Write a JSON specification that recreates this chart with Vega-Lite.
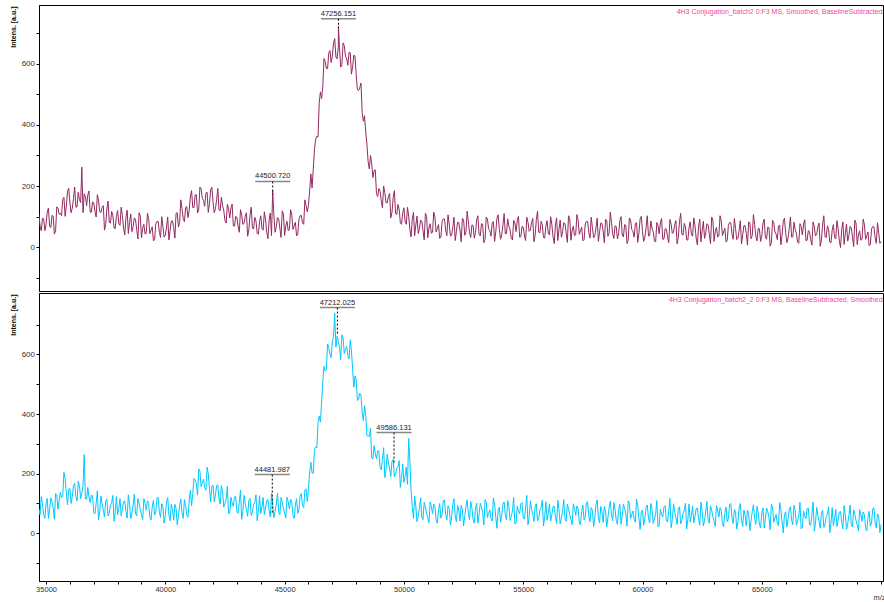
{
"$schema":"https://vega.github.io/schema/vega-lite/v6.json",
"background":"white",
"padding":{"left":8,"top":4,"right":0,"bottom":0},
"spacing":0,
"config":{"view":{"stroke":"black","strokeWidth":1},"font":"Liberation Sans","axis":{"grid":false,"labelOverlap":false}},
"datasets":{
"spec":[
{"m":34700,"t":107,"b":82},{"m":34800,"t":54,"b":123},{"m":34900,"t":93,"b":63},{"m":35000,"t":73,"b":100},{"m":35100,"t":128,"b":50},{"m":35200,"t":64,"b":119},{"m":35300,"t":102,"b":87},{"m":35400,"t":54,"b":133},{"m":35500,"t":129,"b":81},{"m":35600,"t":111,"b":137},
{"m":35700,"t":157,"b":124},{"m":35800,"t":101,"b":184},{"m":35900,"t":183,"b":95},{"m":36000,"t":145,"b":151},{"m":36100,"t":128,"b":125},{"m":36200,"t":197,"b":168},{"m":36300,"t":132,"b":108},{"m":36400,"t":156,"b":160},{"m":36500,"t":262,"b":136},{"m":36600,"t":175,"b":264},
{"m":36700,"t":136,"b":114},{"m":36800,"t":184,"b":122},{"m":36900,"t":115,"b":127},{"m":37000,"t":145,"b":69},{"m":37100,"t":99,"b":101},{"m":37200,"t":154,"b":45},{"m":37300,"t":113,"b":125},{"m":37400,"t":136,"b":79},{"m":37500,"t":74,"b":107},{"m":37600,"t":151,"b":58},
{"m":37700,"t":79,"b":94},{"m":37800,"t":105,"b":127},{"m":37900,"t":61,"b":72},{"m":38000,"t":120,"b":62},{"m":38100,"t":72,"b":116},{"m":38200,"t":104,"b":81},{"m":38300,"t":40,"b":109},{"m":38400,"t":121,"b":51},{"m":38500,"t":80,"b":97},{"m":38600,"t":51,"b":68},
{"m":38700,"t":96,"b":131},{"m":38800,"t":59,"b":58},{"m":38900,"t":113,"b":100},{"m":39000,"t":31,"b":63},{"m":39100,"t":75,"b":116},{"m":39200,"t":46,"b":77},{"m":39300,"t":93,"b":100},{"m":39400,"t":56,"b":44},{"m":39500,"t":21,"b":110},{"m":39600,"t":76,"b":72},
{"m":39700,"t":84,"b":121},{"m":39800,"t":32,"b":53},{"m":39900,"t":67,"b":89},{"m":40000,"t":40,"b":61},{"m":40100,"t":99,"b":120},{"m":40200,"t":55,"b":42},{"m":40300,"t":86,"b":80},{"m":40400,"t":30,"b":97},{"m":40500,"t":113,"b":28},{"m":40600,"t":81,"b":93},
{"m":40700,"t":127,"b":69},{"m":40800,"t":84,"b":113},{"m":40900,"t":133,"b":60},{"m":41000,"t":120,"b":112},{"m":41100,"t":185,"b":92},{"m":41200,"t":129,"b":184},{"m":41300,"t":172,"b":167},{"m":41400,"t":122,"b":216},{"m":41500,"t":191,"b":156},{"m":41600,"t":153,"b":182},
{"m":41700,"t":177,"b":144},{"m":41800,"t":114,"b":199},{"m":41900,"t":188,"b":105},{"m":42000,"t":147,"b":161},{"m":42100,"t":126,"b":128},{"m":42200,"t":192,"b":163},{"m":42300,"t":120,"b":98},{"m":42400,"t":136,"b":140},{"m":42500,"t":87,"b":101},{"m":42600,"t":140,"b":158},
{"m":42700,"t":96,"b":69},{"m":42800,"t":141,"b":102},{"m":42900,"t":69,"b":122},{"m":43000,"t":98,"b":71},{"m":43100,"t":49,"b":103},{"m":43200,"t":106,"b":47},{"m":43300,"t":78,"b":127},{"m":43400,"t":113,"b":81},{"m":43500,"t":56,"b":109},{"m":43600,"t":131,"b":60},
{"m":43700,"t":60,"b":96},{"m":43800,"t":86,"b":129},{"m":43900,"t":43,"b":74},{"m":44000,"t":103,"b":66},{"m":44100,"t":56,"b":120},{"m":44200,"t":90,"b":85},{"m":44300,"t":28,"b":113},{"m":44400,"t":112,"b":55},{"m":44500,"t":185,"b":101},{"m":44600,"t":49,"b":72},
{"m":44700,"t":97,"b":135},{"m":44800,"t":63,"b":62},{"m":44900,"t":119,"b":104},{"m":45000,"t":39,"b":68},{"m":45100,"t":85,"b":121},{"m":45200,"t":57,"b":82},{"m":45300,"t":106,"b":105},{"m":45400,"t":70,"b":50},{"m":45500,"t":37,"b":116},{"m":45600,"t":92,"b":78},
{"m":45700,"t":104,"b":133},{"m":45800,"t":75,"b":86},{"m":45900,"t":135,"b":149},{"m":46000,"t":137,"b":148},{"m":46100,"t":240,"b":239},{"m":46200,"t":254,"b":202},{"m":46300,"t":353,"b":290},{"m":46400,"t":360,"b":372},{"m":46500,"t":508,"b":373},{"m":46600,"t":526,"b":508},
{"m":46700,"t":607,"b":544},{"m":46800,"t":584,"b":635},{"m":46900,"t":643,"b":600},{"m":47000,"t":625,"b":642},{"m":47100,"t":682,"b":738},{"m":47200,"t":616,"b":661},{"m":47256,"t":722,"b":640},{"m":47300,"t":652,"b":625},{"m":47400,"t":597,"b":666},{"m":47500,"t":659,"b":603},
{"m":47600,"t":616,"b":627},{"m":47700,"t":637,"b":584},{"m":47800,"t":566,"b":614},{"m":47900,"t":628,"b":490},{"m":48000,"t":565,"b":516},{"m":48100,"t":513,"b":450},{"m":48200,"t":537,"b":463},{"m":48300,"t":412,"b":378},{"m":48400,"t":376,"b":395},{"m":48500,"t":280,"b":326},
{"m":48600,"t":300,"b":353},{"m":48700,"t":228,"b":249},{"m":48800,"t":253,"b":267},{"m":48900,"t":166,"b":277},{"m":49000,"t":183,"b":219},{"m":49100,"t":129,"b":248},{"m":49200,"t":179,"b":187},{"m":49300,"t":145,"b":265},{"m":49400,"t":176,"b":216},{"m":49500,"t":114,"b":241},
{"m":49600,"t":185,"b":190},{"m":49700,"t":106,"b":218},{"m":49800,"t":125,"b":244},{"m":49900,"t":75,"b":184},{"m":50000,"t":129,"b":171},{"m":50100,"t":75,"b":222},{"m":50200,"t":102,"b":318},{"m":50300,"t":34,"b":143},{"m":50400,"t":114,"b":50},{"m":50500,"t":73,"b":89},
{"m":50600,"t":45,"b":57},{"m":50700,"t":89,"b":119},{"m":50800,"t":55,"b":46},{"m":50900,"t":111,"b":88},{"m":51000,"t":31,"b":52},{"m":51100,"t":77,"b":105},{"m":51200,"t":49,"b":66},{"m":51300,"t":98,"b":89},{"m":51400,"t":62,"b":34},{"m":51500,"t":29,"b":100},
{"m":51600,"t":84,"b":62},{"m":51700,"t":92,"b":112},{"m":51800,"t":38,"b":45},{"m":51900,"t":73,"b":83},{"m":52000,"t":40,"b":55},{"m":52100,"t":98,"b":116},{"m":52200,"t":52,"b":39},{"m":52300,"t":81,"b":77},{"m":52400,"t":18,"b":94},{"m":52500,"t":91,"b":25},
{"m":52600,"t":49,"b":90},{"m":52700,"t":85,"b":66},{"m":52800,"t":32,"b":107},{"m":52900,"t":71,"b":47},{"m":53000,"t":48,"b":84},{"m":53100,"t":103,"b":34},{"m":53200,"t":37,"b":101},{"m":53300,"t":75,"b":69},{"m":53400,"t":25,"b":113},{"m":53500,"t":92,"b":53},
{"m":53600,"t":54,"b":79},{"m":53700,"t":80,"b":41},{"m":53800,"t":19,"b":96},{"m":53900,"t":96,"b":17},{"m":54000,"t":58,"b":88},{"m":54100,"t":41,"b":62},{"m":54200,"t":110,"b":105},{"m":54300,"t":45,"b":45},{"m":54400,"t":69,"b":92},{"m":54500,"t":28,"b":58},
{"m":54600,"t":88,"b":120},{"m":54700,"t":51,"b":36},{"m":54800,"t":101,"b":74},{"m":54900,"t":34,"b":99},{"m":55000,"t":66,"b":51},{"m":55100,"t":22,"b":85},{"m":55200,"t":82,"b":29},{"m":55300,"t":56,"b":109},{"m":55400,"t":94,"b":63},{"m":55500,"t":39,"b":91},
{"m":55600,"t":118,"b":42},{"m":55700,"t":47,"b":78},{"m":55800,"t":73,"b":111},{"m":55900,"t":30,"b":56},{"m":56000,"t":87,"b":44},{"m":56100,"t":40,"b":98},{"m":56200,"t":74,"b":63},{"m":56300,"t":12,"b":91},{"m":56400,"t":96,"b":33},{"m":56500,"t":58,"b":79},
{"m":56600,"t":33,"b":50},{"m":56700,"t":81,"b":113},{"m":56800,"t":47,"b":40},{"m":56900,"t":103,"b":82},{"m":57000,"t":23,"b":46},{"m":57100,"t":69,"b":99},{"m":57200,"t":41,"b":60},{"m":57300,"t":90,"b":83},{"m":57400,"t":54,"b":28},{"m":57500,"t":21,"b":94},
{"m":57600,"t":76,"b":56},{"m":57700,"t":84,"b":106},{"m":57800,"t":30,"b":39},{"m":57900,"t":65,"b":77},{"m":58000,"t":37,"b":51},{"m":58100,"t":95,"b":112},{"m":58200,"t":49,"b":35},{"m":58300,"t":78,"b":73},{"m":58400,"t":15,"b":90},{"m":58500,"t":88,"b":21},
{"m":58600,"t":46,"b":86},{"m":58700,"t":82,"b":62},{"m":58800,"t":29,"b":103},{"m":58900,"t":68,"b":43},{"m":59000,"t":45,"b":80},{"m":59100,"t":100,"b":30},{"m":59200,"t":34,"b":97},{"m":59300,"t":72,"b":65},{"m":59400,"t":22,"b":109},{"m":59500,"t":89,"b":49},
{"m":59600,"t":51,"b":75},{"m":59700,"t":77,"b":37},{"m":59800,"t":16,"b":92},{"m":59900,"t":93,"b":13},{"m":60000,"t":51,"b":78},{"m":60100,"t":34,"b":52},{"m":60200,"t":103,"b":95},{"m":60300,"t":38,"b":35},{"m":60400,"t":62,"b":82},{"m":60500,"t":21,"b":48},
{"m":60600,"t":81,"b":110},{"m":60700,"t":44,"b":26},{"m":60800,"t":94,"b":64},{"m":60900,"t":27,"b":89},{"m":61000,"t":59,"b":41},{"m":61100,"t":15,"b":75},{"m":61200,"t":75,"b":19},{"m":61300,"t":49,"b":99},{"m":61400,"t":87,"b":53},{"m":61500,"t":32,"b":81},
{"m":61600,"t":111,"b":32},{"m":61700,"t":40,"b":68},{"m":61800,"t":66,"b":101},{"m":61900,"t":23,"b":46},{"m":62000,"t":83,"b":38},{"m":62100,"t":36,"b":92},{"m":62200,"t":70,"b":57},{"m":62300,"t":8,"b":85},{"m":62400,"t":92,"b":27},{"m":62500,"t":54,"b":73},
{"m":62600,"t":29,"b":44},{"m":62700,"t":77,"b":107},{"m":62800,"t":43,"b":34},{"m":62900,"t":99,"b":76},{"m":63000,"t":19,"b":40},{"m":63100,"t":65,"b":93},{"m":63200,"t":37,"b":54},{"m":63300,"t":86,"b":77},{"m":63400,"t":50,"b":22},{"m":63500,"t":17,"b":88},
{"m":63600,"t":72,"b":50},{"m":63700,"t":80,"b":100},{"m":63800,"t":26,"b":33},{"m":63900,"t":61,"b":71},{"m":64000,"t":29,"b":39},{"m":64100,"t":87,"b":100},{"m":64200,"t":41,"b":23},{"m":64300,"t":70,"b":61},{"m":64400,"t":7,"b":78},{"m":64500,"t":80,"b":9},
{"m":64600,"t":38,"b":74},{"m":64700,"t":74,"b":50},{"m":64800,"t":21,"b":91},{"m":64900,"t":60,"b":31},{"m":65000,"t":37,"b":68},{"m":65100,"t":92,"b":18},{"m":65200,"t":26,"b":85},{"m":65300,"t":64,"b":53},{"m":65400,"t":14,"b":97},{"m":65500,"t":81,"b":37},
{"m":65600,"t":43,"b":63},{"m":65700,"t":69,"b":25},{"m":65800,"t":8,"b":80},{"m":65900,"t":85,"b":1},{"m":66000,"t":47,"b":72},{"m":66100,"t":30,"b":46},{"m":66200,"t":99,"b":89},{"m":66300,"t":34,"b":29},{"m":66400,"t":58,"b":76},{"m":66500,"t":17,"b":42},
{"m":66600,"t":77,"b":104},{"m":66700,"t":40,"b":20},{"m":66800,"t":90,"b":58},{"m":66900,"t":23,"b":83},{"m":67000,"t":51,"b":29},{"m":67100,"t":7,"b":63},{"m":67200,"t":67,"b":7},{"m":67300,"t":41,"b":87},{"m":67400,"t":79,"b":41},{"m":67500,"t":24,"b":69},
{"m":67600,"t":103,"b":20},{"m":67700,"t":32,"b":56},{"m":67800,"t":58,"b":89},{"m":67900,"t":15,"b":34},{"m":68000,"t":74,"b":26},{"m":68100,"t":27,"b":80},{"m":68200,"t":61,"b":45},{"m":68300,"t":-1,"b":73},{"m":68400,"t":83,"b":15},{"m":68500,"t":45,"b":61},
{"m":68600,"t":20,"b":32},{"m":68700,"t":68,"b":95},{"m":68800,"t":33,"b":21},{"m":68900,"t":89,"b":63},{"m":69000,"t":9,"b":27},{"m":69100,"t":54,"b":79},{"m":69200,"t":26,"b":40},{"m":69300,"t":75,"b":63},{"m":69400,"t":38,"b":8},{"m":69500,"t":5,"b":74},
{"m":69600,"t":60,"b":35},{"m":69700,"t":67,"b":85},{"m":69800,"t":13,"b":18},{"m":69900,"t":47,"b":56},{"m":70000,"t":19,"b":30},
{"m":34750,"t":69,"b":62},{"m":34850,"t":95,"b":100},{"m":34950,"t":54,"b":50},{"m":35050,"t":115,"b":117},{"m":35150,"t":69,"b":80},{"m":35250,"t":104,"b":107},{"m":35350,"t":43,"b":47},{"m":35450,"t":132,"b":129},{"m":35550,"t":108,"b":110},{"m":35650,"t":103,"b":120},
{"m":35750,"t":163,"b":204},{"m":35850,"t":134,"b":137},{"m":35950,"t":193,"b":148},{"m":36050,"t":113,"b":100},{"m":36150,"t":159,"b":160},{"m":36250,"t":131,"b":123},{"m":36350,"t":180,"b":175},{"m":36450,"t":146,"b":116},{"m":36550,"t":113,"b":160},{"m":36650,"t":165,"b":116},
{"m":36750,"t":171,"b":154},{"m":36850,"t":115,"b":103},{"m":36950,"t":148,"b":126},{"m":37050,"t":118,"b":65},{"m":37150,"t":172,"b":143},{"m":37250,"t":116,"b":72},{"m":37350,"t":130,"b":98},{"m":37450,"t":56,"b":55},{"m":37550,"t":125,"b":115},{"m":37650,"t":81,"b":68},
{"m":37750,"t":117,"b":102},{"m":37850,"t":63,"b":40},{"m":37950,"t":101,"b":123},{"m":38050,"t":77,"b":84},{"m":38150,"t":131,"b":59},{"m":38250,"t":63,"b":107},{"m":38350,"t":98,"b":73},{"m":38450,"t":45,"b":129},{"m":38550,"t":109,"b":49},{"m":38650,"t":67,"b":95},
{"m":38750,"t":90,"b":67},{"m":38850,"t":27,"b":116},{"m":38950,"t":102,"b":79},{"m":39050,"t":62,"b":46},{"m":39150,"t":43,"b":101},{"m":39250,"t":111,"b":109},{"m":39350,"t":44,"b":54},{"m":39450,"t":67,"b":89},{"m":39550,"t":25,"b":61},{"m":39650,"t":85,"b":118},
{"m":39750,"t":49,"b":71},{"m":39850,"t":100,"b":99},{"m":39950,"t":33,"b":34},{"m":40050,"t":66,"b":105},{"m":40150,"t":24,"b":61},{"m":40250,"t":86,"b":97},{"m":40350,"t":64,"b":44},{"m":40450,"t":111,"b":83},{"m":40550,"t":66,"b":60},{"m":40650,"t":155,"b":115},
{"m":40750,"t":94,"b":50},{"m":40850,"t":130,"b":93},{"m":40950,"t":97,"b":54},{"m":41050,"t":167,"b":144},{"m":41150,"t":130,"b":133},{"m":41250,"t":171,"b":179},{"m":41350,"t":112,"b":128},{"m":41450,"t":197,"b":208},{"m":41550,"t":160,"b":170},{"m":41650,"t":134,"b":153},
{"m":41750,"t":180,"b":222},{"m":41850,"t":143,"b":149},{"m":41950,"t":196,"b":158},{"m":42050,"t":113,"b":106},{"m":42150,"t":155,"b":159},{"m":42250,"t":122,"b":115},{"m":42350,"t":164,"b":160},{"m":42450,"t":120,"b":88},{"m":42550,"t":79,"b":115},{"m":42650,"t":127,"b":66},
{"m":42750,"t":129,"b":121},{"m":42850,"t":70,"b":90},{"m":42950,"t":101,"b":124},{"m":43050,"t":69,"b":67},{"m":43150,"t":123,"b":145},{"m":43250,"t":75,"b":74},{"m":43350,"t":101,"b":100},{"m":43450,"t":36,"b":57},{"m":43550,"t":106,"b":117},{"m":43650,"t":62,"b":70},
{"m":43750,"t":98,"b":104},{"m":43850,"t":45,"b":42},{"m":43950,"t":84,"b":126},{"m":44050,"t":61,"b":88},{"m":44150,"t":116,"b":63},{"m":44250,"t":50,"b":111},{"m":44350,"t":88,"b":77},{"m":44450,"t":38,"b":133},{"m":44550,"t":105,"b":53},{"m":44650,"t":67,"b":99},
{"m":44750,"t":93,"b":71},{"m":44850,"t":32,"b":120},{"m":44950,"t":109,"b":84},{"m":45050,"t":71,"b":51},{"m":45150,"t":54,"b":106},{"m":45250,"t":123,"b":114},{"m":45350,"t":58,"b":60},{"m":45450,"t":82,"b":95},{"m":45550,"t":41,"b":67},{"m":45650,"t":103,"b":127},
{"m":45750,"t":80,"b":94},{"m":45850,"t":155,"b":145},{"m":45950,"t":116,"b":107},{"m":46050,"t":185,"b":208},{"m":46150,"t":194,"b":201},{"m":46250,"t":319,"b":282},{"m":46350,"t":363,"b":286},{"m":46450,"t":473,"b":393},{"m":46550,"t":486,"b":440},{"m":46650,"t":617,"b":560},
{"m":46750,"t":584,"b":549},{"m":46850,"t":635,"b":624},{"m":46950,"t":604,"b":589},{"m":47050,"t":668,"b":661},{"m":47150,"t":622,"b":624},{"m":47250,"t":655,"b":647},{"m":47350,"t":589,"b":582},{"m":47450,"t":668,"b":656},{"m":47550,"t":625,"b":616},{"m":47650,"t":595,"b":595},
{"m":47750,"t":636,"b":649},{"m":47850,"t":589,"b":549},{"m":47950,"t":625,"b":528},{"m":48050,"t":515,"b":445},{"m":48150,"t":521,"b":470},{"m":48250,"t":441,"b":405},{"m":48350,"t":430,"b":428},{"m":48450,"t":336,"b":328},{"m":48550,"t":256,"b":325},{"m":48650,"t":273,"b":254},
{"m":48750,"t":251,"b":294},{"m":48850,"t":175,"b":250},{"m":48950,"t":192,"b":276},{"m":49050,"t":152,"b":213},{"m":49150,"t":200,"b":287},{"m":49250,"t":145,"b":213},{"m":49350,"t":166,"b":236},{"m":49450,"t":96,"b":190},{"m":49550,"t":162,"b":248},{"m":49650,"t":112,"b":196},
{"m":49750,"t":140,"b":222},{"m":49850,"t":80,"b":154},{"m":49950,"t":113,"b":233},{"m":50050,"t":83,"b":191},{"m":50150,"t":131,"b":164},{"m":50250,"t":59,"b":240},{"m":50350,"t":92,"b":89},{"m":50450,"t":38,"b":124},{"m":50550,"t":102,"b":39},{"m":50650,"t":61,"b":83},
{"m":50750,"t":85,"b":55},{"m":50850,"t":24,"b":104},{"m":50950,"t":101,"b":68},{"m":51050,"t":63,"b":35},{"m":51150,"t":46,"b":90},{"m":51250,"t":115,"b":98},{"m":51350,"t":50,"b":44},{"m":51450,"t":74,"b":79},{"m":51550,"t":33,"b":51},{"m":51650,"t":93,"b":109},
{"m":51750,"t":56,"b":63},{"m":51850,"t":106,"b":92},{"m":51950,"t":36,"b":28},{"m":52050,"t":66,"b":100},{"m":52150,"t":22,"b":58},{"m":52250,"t":82,"b":94},{"m":52350,"t":56,"b":41},{"m":52450,"t":94,"b":80},{"m":52550,"t":39,"b":57},{"m":52650,"t":118,"b":112},
{"m":52750,"t":47,"b":46},{"m":52850,"t":73,"b":84},{"m":52950,"t":30,"b":34},{"m":53050,"t":90,"b":101},{"m":53150,"t":43,"b":63},{"m":53250,"t":77,"b":89},{"m":53350,"t":15,"b":28},{"m":53450,"t":99,"b":105},{"m":53550,"t":61,"b":67},{"m":53650,"t":36,"b":50},
{"m":53750,"t":84,"b":119},{"m":53850,"t":50,"b":54},{"m":53950,"t":106,"b":78},{"m":54050,"t":26,"b":37},{"m":54150,"t":72,"b":97},{"m":54250,"t":44,"b":60},{"m":54350,"t":93,"b":110},{"m":54450,"t":57,"b":43},{"m":54550,"t":24,"b":75},{"m":54650,"t":79,"b":31},
{"m":54750,"t":87,"b":91},{"m":54850,"t":33,"b":65},{"m":54950,"t":68,"b":103},{"m":55050,"t":40,"b":48},{"m":55150,"t":98,"b":127},{"m":55250,"t":52,"b":56},{"m":55350,"t":81,"b":82},{"m":55450,"t":18,"b":39},{"m":55550,"t":91,"b":99},{"m":55650,"t":49,"b":52},
{"m":55750,"t":85,"b":86},{"m":55850,"t":32,"b":24},{"m":55950,"t":69,"b":106},{"m":56050,"t":45,"b":66},{"m":56150,"t":100,"b":41},{"m":56250,"t":34,"b":89},{"m":56350,"t":72,"b":55},{"m":56450,"t":22,"b":111},{"m":56550,"t":89,"b":31},{"m":56650,"t":51,"b":77},
{"m":56750,"t":77,"b":49},{"m":56850,"t":16,"b":98},{"m":56950,"t":93,"b":62},{"m":57050,"t":55,"b":29},{"m":57150,"t":38,"b":84},{"m":57250,"t":107,"b":92},{"m":57350,"t":42,"b":38},{"m":57450,"t":66,"b":73},{"m":57550,"t":25,"b":45},{"m":57650,"t":85,"b":103},
{"m":57750,"t":48,"b":57},{"m":57850,"t":98,"b":86},{"m":57950,"t":31,"b":23},{"m":58050,"t":63,"b":96},{"m":58150,"t":19,"b":54},{"m":58250,"t":79,"b":90},{"m":58350,"t":53,"b":37},{"m":58450,"t":91,"b":76},{"m":58550,"t":36,"b":53},{"m":58650,"t":115,"b":108},
{"m":58750,"t":44,"b":42},{"m":58850,"t":70,"b":80},{"m":58950,"t":27,"b":30},{"m":59050,"t":87,"b":97},{"m":59150,"t":40,"b":59},{"m":59250,"t":74,"b":85},{"m":59350,"t":12,"b":24},{"m":59450,"t":96,"b":101},{"m":59550,"t":58,"b":63},{"m":59650,"t":33,"b":46},
{"m":59750,"t":81,"b":115},{"m":59850,"t":47,"b":50},{"m":59950,"t":101,"b":71},{"m":60050,"t":19,"b":27},{"m":60150,"t":65,"b":87},{"m":60250,"t":37,"b":50},{"m":60350,"t":86,"b":100},{"m":60450,"t":50,"b":33},{"m":60550,"t":17,"b":65},{"m":60650,"t":72,"b":21},
{"m":60750,"t":80,"b":81},{"m":60850,"t":26,"b":55},{"m":60950,"t":61,"b":93},{"m":61050,"t":33,"b":38},{"m":61150,"t":91,"b":117},{"m":61250,"t":45,"b":46},{"m":61350,"t":74,"b":72},{"m":61450,"t":11,"b":29},{"m":61550,"t":84,"b":89},{"m":61650,"t":42,"b":42},
{"m":61750,"t":78,"b":76},{"m":61850,"t":25,"b":14},{"m":61950,"t":64,"b":98},{"m":62050,"t":41,"b":60},{"m":62150,"t":96,"b":35},{"m":62250,"t":30,"b":83},{"m":62350,"t":68,"b":49},{"m":62450,"t":18,"b":105},{"m":62550,"t":85,"b":25},{"m":62650,"t":47,"b":71},
{"m":62750,"t":73,"b":43},{"m":62850,"t":12,"b":92},{"m":62950,"t":89,"b":56},{"m":63050,"t":51,"b":23},{"m":63150,"t":34,"b":78},{"m":63250,"t":103,"b":86},{"m":63350,"t":38,"b":32},{"m":63450,"t":62,"b":67},{"m":63550,"t":21,"b":39},{"m":63650,"t":81,"b":97},
{"m":63750,"t":44,"b":51},{"m":63850,"t":94,"b":80},{"m":63950,"t":25,"b":14},{"m":64050,"t":55,"b":84},{"m":64150,"t":11,"b":42},{"m":64250,"t":71,"b":78},{"m":64350,"t":45,"b":25},{"m":64450,"t":83,"b":64},{"m":64550,"t":28,"b":41},{"m":64650,"t":107,"b":96},
{"m":64750,"t":36,"b":30},{"m":64850,"t":62,"b":68},{"m":64950,"t":19,"b":18},{"m":65050,"t":79,"b":85},{"m":65150,"t":32,"b":47},{"m":65250,"t":66,"b":73},{"m":65350,"t":4,"b":12},{"m":65450,"t":88,"b":89},{"m":65550,"t":50,"b":51},{"m":65650,"t":25,"b":34},
{"m":65750,"t":73,"b":103},{"m":65850,"t":39,"b":38},{"m":65950,"t":95,"b":62},{"m":66050,"t":15,"b":21},{"m":66150,"t":61,"b":81},{"m":66250,"t":33,"b":44},{"m":66350,"t":82,"b":94},{"m":66450,"t":46,"b":27},{"m":66550,"t":13,"b":59},{"m":66650,"t":68,"b":15},
{"m":66750,"t":76,"b":75},{"m":66850,"t":22,"b":49},{"m":66950,"t":55,"b":84},{"m":67050,"t":25,"b":26},{"m":67150,"t":83,"b":105},{"m":67250,"t":37,"b":34},{"m":67350,"t":66,"b":60},{"m":67450,"t":3,"b":17},{"m":67550,"t":76,"b":77},{"m":67650,"t":34,"b":30},
{"m":67750,"t":70,"b":64},{"m":67850,"t":17,"b":2},{"m":67950,"t":55,"b":86},{"m":68050,"t":32,"b":48},{"m":68150,"t":87,"b":23},{"m":68250,"t":21,"b":71},{"m":68350,"t":59,"b":37},{"m":68450,"t":9,"b":93},{"m":68550,"t":76,"b":13},{"m":68650,"t":38,"b":59},
{"m":68750,"t":63,"b":30},{"m":68850,"t":2,"b":79},{"m":68950,"t":79,"b":43},{"m":69050,"t":40,"b":9},{"m":69150,"t":23,"b":64},{"m":69250,"t":92,"b":72},{"m":69350,"t":26,"b":18},{"m":69450,"t":50,"b":53},{"m":69550,"t":9,"b":24},{"m":69650,"t":68,"b":82},
{"m":69750,"t":31,"b":36},{"m":69850,"t":80,"b":65},{"m":69950,"t":13,"b":2}
],
"peaks":[
{"panel":"top","m":47256.151,"label":"47256.151","level":747,"tip":716},
{"panel":"top","m":44500.72,"label":"44500.720","level":215,"tip":173},
{"panel":"bottom","m":47212.025,"label":"47212.025","level":757,"tip":669},
{"panel":"bottom","m":44481.987,"label":"44481.987","level":197,"tip":68},
{"panel":"bottom","m":49586.131,"label":"49586.131","level":338,"tip":233}
]
},
"vconcat":[
{
"width":844,"height":286,
"layer":[
{"data":{"name":"spec"},"mark":{"type":"line","color":"#932a60","strokeWidth":1,"clip":true},
"encoding":{
"x":{"field":"m","type":"quantitative","scale":{"domain":[34705,70080],"nice":false,"zero":false},"axis":null},
"y":{"field":"t","type":"quantitative","scale":{"domain":[-143,792],"nice":false,"zero":false},
"axis":{"title":"Intens. [a.u.]","values":[-100,0,100,200,300,400,500,600,700],"tickCount":100,"labelOpacity":{"condition":{"test":"datum.value % 200 == 0","value":1},"value":0},"labelOverlap":false,"labelBound":false,"labelFlush":false,"format":"d","tickSize":3,"tickColor":"black","domainColor":"black","labelFontSize":8,"labelColor":"#333","labelPadding":1.5,"titleFontSize":7,"titleFontWeight":"bold","titleColor":"black","titleAngle":270,"titleAlign":"right","titleBaseline":"middle","titleX":-26,"titleY":1}}}},
{"data":{"name":"peaks"},"transform":[{"filter":"datum.panel == 'top'"}],"mark":{"type":"tick","orient":"horizontal","size":35,"thickness":1.5,"color":"#555"},
"encoding":{"x":{"field":"m","type":"quantitative"},"y":{"field":"level","type":"quantitative"}}},
{"data":{"name":"peaks"},"transform":[{"filter":"datum.panel == 'top'"}],"mark":{"type":"rule","strokeDash":[2,2],"color":"black","strokeWidth":1},
"encoding":{"x":{"field":"m","type":"quantitative"},"y":{"field":"level","type":"quantitative"},"y2":{"field":"tip"}}},
{"data":{"name":"peaks"},"transform":[{"filter":"datum.panel == 'top'"}],"mark":{"type":"text","fontSize":7.5,"dy":-3,"baseline":"alphabetic","align":"center","color":"#222"},
"encoding":{"x":{"field":"m","type":"quantitative"},"y":{"field":"level","type":"quantitative"},"text":{"field":"label"}}},
{"data":{"values":[{"name":"4H3 Conjugation_batch2 0:F3 MS, Smoothed, BaselineSubtracted"}]},"mark":{"type":"text","align":"right","baseline":"middle","fontSize":7,"color":"#f2479b"},
"encoding":{"x":{"datum":70060,"type":"quantitative"},"y":{"datum":770,"type":"quantitative"},"text":{"field":"name"}}}
]
},
{
"width":844,"height":288,
"layer":[
{"data":{"name":"spec"},"mark":{"type":"line","color":"#00c8ff","strokeWidth":1,"clip":true},
"encoding":{
"x":{"field":"m","type":"quantitative","scale":{"domain":[34705,70080],"nice":false,"zero":false},
"axis":{"title":"m/z","values":[35000,36000,37000,38000,39000,40000,41000,42000,43000,44000,45000,46000,47000,48000,49000,50000,51000,52000,53000,54000,55000,56000,57000,58000,59000,60000,61000,62000,63000,64000,65000,66000,67000,68000,69000,70000],"tickCount":100,"labelOpacity":{"condition":{"test":"datum.value % 5000 == 0 && datum.value < 70000","value":1},"value":0},"labelOverlap":false,"labelBound":false,"labelFlush":false,"format":"d","tickSize":3,"tickColor":"black","domainColor":"black","labelFontSize":7.5,"labelColor":"#333","labelPadding":1,"titleFontSize":7.5,"titleFontWeight":"normal","titleColor":"#333","titleAlign":"left","titleBaseline":"middle","titleX":834,"titleY":16}},
"y":{"field":"b","type":"quantitative","scale":{"domain":[-160,806],"nice":false,"zero":false},
"axis":{"title":"Intens. [a.u.]","values":[-100,0,100,200,300,400,500,600,700],"tickCount":100,"labelOpacity":{"condition":{"test":"datum.value % 200 == 0","value":1},"value":0},"labelOverlap":false,"labelBound":false,"labelFlush":false,"format":"d","tickSize":3,"tickColor":"black","domainColor":"black","labelFontSize":8,"labelColor":"#333","labelPadding":1.5,"titleFontSize":7,"titleFontWeight":"bold","titleColor":"black","titleAngle":270,"titleAlign":"right","titleBaseline":"middle","titleX":-26,"titleY":1}}}},
{"data":{"name":"peaks"},"transform":[{"filter":"datum.panel == 'bottom'"}],"mark":{"type":"tick","orient":"horizontal","size":35,"thickness":1.5,"color":"#555"},
"encoding":{"x":{"field":"m","type":"quantitative"},"y":{"field":"level","type":"quantitative"}}},
{"data":{"name":"peaks"},"transform":[{"filter":"datum.panel == 'bottom'"}],"mark":{"type":"rule","strokeDash":[2,2],"color":"black","strokeWidth":1},
"encoding":{"x":{"field":"m","type":"quantitative"},"y":{"field":"level","type":"quantitative"},"y2":{"field":"tip"}}},
{"data":{"name":"peaks"},"transform":[{"filter":"datum.panel == 'bottom'"}],"mark":{"type":"text","fontSize":7.5,"dy":-3,"baseline":"alphabetic","align":"center","color":"#222"},
"encoding":{"x":{"field":"m","type":"quantitative"},"y":{"field":"level","type":"quantitative"},"text":{"field":"label"}}},
{"data":{"values":[{"name":"4H3 Conjugation_batch2_2 0:F3 MS, BaselineSubtracted, Smoothed"}]},"mark":{"type":"text","align":"right","baseline":"middle","fontSize":7,"color":"#f2479b"},
"encoding":{"x":{"datum":70060,"type":"quantitative"},"y":{"datum":782,"type":"quantitative"},"text":{"field":"name"}}}
]
}
]
}
